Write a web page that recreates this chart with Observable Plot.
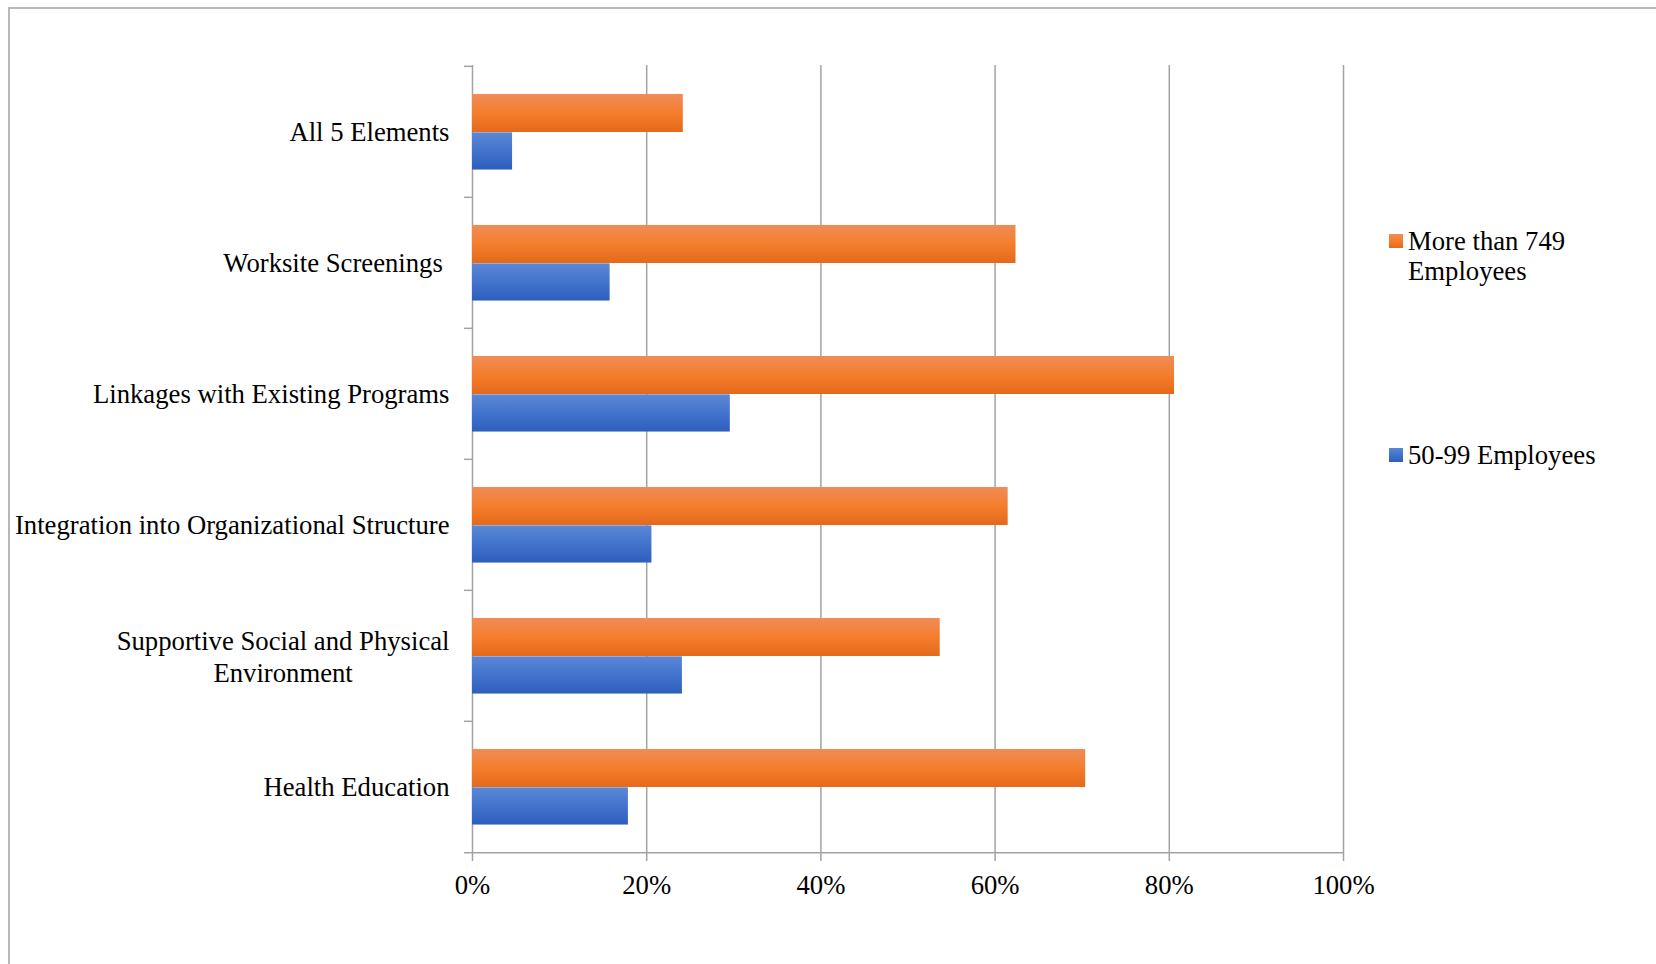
<!DOCTYPE html>
<html>
<head>
<meta charset="utf-8">
<script src="https://cdn.jsdelivr.net/npm/d3@7"></script>
<script src="https://cdn.jsdelivr.net/npm/@observablehq/plot@0.6"></script>
<style>
  html, body { margin: 0; padding: 0; background: #fff; }
  #wrap { position: relative; width: 1656px; height: 964px; overflow: hidden; font-family: "Liberation Serif", "Times New Roman", serif; }
  #border { position: absolute; left: 8px; top: 7px; width: 1700px; height: 1000px; border-top: 2px solid #b8b8b8; border-left: 2px solid #b8b8b8; }
  #chart { position: absolute; left: 0; top: 0; }
  #chart svg text { white-space: pre; }
  .legend-item { position: absolute; left: 1389px; font-size: 26.7px; line-height: 30px; color: #000; }
  .legend-item .sw { position: absolute; left: 0; top: 8px; width: 14px; height: 14px; }
  .legend-item .lbl { margin-left: 19px; display: block; white-space: pre; }
</style>
</head>
<body>
<div id="wrap">
  <div id="border"></div>
  <div id="chart"></div>
  <div id="legend"></div>
</div>
<script>
// ---- data ----
const categories = [
  "All 5 Elements",
  "Worksite Screenings ",
  "Linkages with Existing Programs",
  "Integration into Organizational Structure",
  "Supportive Social and Physical\nEnvironment",
  "Health Education"
];
const seriesNames = ["More than 749\nEmployees", "50-99 Employees"];
const largeShare = [0.242, 0.624, 0.806, 0.615, 0.537, 0.704];  // More than 749 Employees
const smallShare = [0.046, 0.158, 0.296, 0.206, 0.241, 0.179];  // 50-99 Employees
const xTicks = [0, 0.2, 0.4, 0.6, 0.8, 1.0];

// ---- layout / style ----
const W = 1656, H = 964;
const mL = 472, mR = 313, mT = 65, mB = 111;
const band = (H - mT - mB) / categories.length;
const grid = "#a3a3a3";
const fontSize = 26.7;
const gradients = [
  {id: "gOrange", stops: [["0%", "#f08c57"], ["50%", "#f47e2c"], ["100%", "#e4691a"]]},
  {id: "gBlue", stops: [["0%", "#5c87d5"], ["50%", "#4174cd"], ["100%", "#2d5ebd"]]}
];

const rows = categories.map((c, i) => ({category: c, large: largeShare[i], small: smallShare[i]}));

// measure multi-line labels to centre their lines like the original
const ctx = document.createElement("canvas").getContext("2d");
ctx.font = `${fontSize}px "Liberation Serif"`;
const labelGap = 23;
const singles = categories.filter(c => !c.includes("\n"));
const multis = categories.filter(c => c.includes("\n"));

function defs() {
  const ns = "http://www.w3.org/2000/svg";
  const d = document.createElementNS(ns, "defs");
  for (const g of gradients) {
    const lg = document.createElementNS(ns, "linearGradient");
    lg.setAttribute("id", g.id);
    lg.setAttribute("x1", "0"); lg.setAttribute("y1", "0");
    lg.setAttribute("x2", "0"); lg.setAttribute("y2", "1");
    for (const [o, c] of g.stops) {
      const s = document.createElementNS(ns, "stop");
      s.setAttribute("offset", o); s.setAttribute("stop-color", c);
      lg.appendChild(s);
    }
    d.appendChild(lg);
  }
  return d;
}

const chart = Plot.plot({
  width: W, height: H,
  marginLeft: mL, marginRight: mR, marginTop: mT, marginBottom: mB,
  style: {fontFamily: '"Liberation Serif", "Times New Roman", serif', fontSize: fontSize + "px", background: "transparent", color: "#000", overflow: "visible"},
  x: {domain: [0, 1], ticks: xTicks, tickFormat: d3.format(".0%")},
  y: {domain: categories, padding: 0, axis: null},
  marks: [
    defs,
    Plot.ruleX(xTicks, {stroke: grid, strokeWidth: 1.5}),
    Plot.barX(rows, {x: "large", y: "category", fill: "url(#gOrange)", insetTop: band * 0.213, insetBottom: band * 0.495}),
    Plot.barX(rows, {x: "small", y: "category", fill: "url(#gBlue)", insetTop: band * 0.505, insetBottom: band * 0.209}),
    // category boundary ticks (left of the axis)
    Plot.ruleY(categories, {y: d => d, x1: 0, x2: 0, insetLeft: -8, dy: -band / 2, stroke: grid, strokeWidth: 1.5}),
    // bottom axis line
    Plot.ruleY(categories.slice(-1), {y: d => d, x1: 0, x2: 1, insetLeft: -8, dy: band / 2, stroke: grid, strokeWidth: 1.5}),
    Plot.axisX({ticks: xTicks, tickFormat: d3.format(".0%"), tickSize: 8, tickPadding: 14, stroke: grid, strokeWidth: 1.5, fill: "#000", fontSize: fontSize, label: null}),
    Plot.text(singles, {y: d => d, text: d => d, frameAnchor: "left", textAnchor: "end", dx: -labelGap, fill: "#000"}),
    ...multis.map(c => {
      const w = d3.max(c.split("\n"), s => ctx.measureText(s).width);
      return Plot.text([c], {y: d => d, text: d => d, frameAnchor: "left", textAnchor: "middle", lineHeight: 1.18, dx: -(labelGap + w / 2), fill: "#000"});
    })
  ]
});
document.getElementById("chart").appendChild(chart);

// ---- legend (to the right of the plot) ----
const legend = document.getElementById("legend");
const legendTops = [226, 440];
const legendFill = [
  "linear-gradient(#f08c57, #f47e2c, #e4691a)",
  "linear-gradient(#5c87d5, #4174cd, #2d5ebd)"
];
seriesNames.forEach((name, i) => {
  const item = document.createElement("div");
  item.className = "legend-item";
  item.style.top = legendTops[i] + "px";
  const sw = document.createElement("span");
  sw.className = "sw";
  sw.style.background = legendFill[i];
  const lbl = document.createElement("span");
  lbl.className = "lbl";
  lbl.textContent = name;
  item.appendChild(sw);
  item.appendChild(lbl);
  legend.appendChild(item);
});
</script>
</body>
</html>
